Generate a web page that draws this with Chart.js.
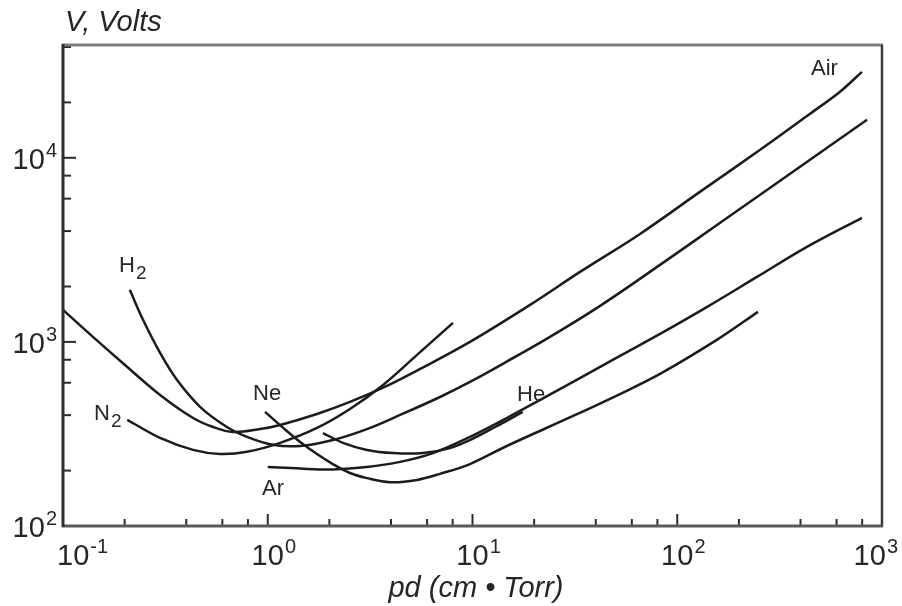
<!DOCTYPE html>
<html>
<head>
<meta charset="utf-8">
<script src="https://cdn.jsdelivr.net/npm/chart.js@4"></script>
<style>
  html, body { margin: 0; padding: 0; background: #fff; }
  canvas { display: block; }
</style>
</head>
<body>
<canvas id="paschen" width="902" height="606"></canvas>
<script>
// breakdown voltage (V) vs pd (cm Torr)
const airPd = [0.1, 0.14, 0.206, 0.298, 0.432, 0.541, 0.676, 0.916, 1.15, 1.74, 2.52, 3.82, 5.55, 9.72, 19.1, 33.5, 65.8, 129, 254, 445, 624, 798];
const airV  = [1493, 1065, 731, 515, 386, 345, 324, 336, 354, 406, 472, 577, 713, 1000, 1589, 2400, 3860, 6530, 11050, 17340, 22850, 29300];

const h2Pd = [0.212, 0.246, 0.298, 0.36, 0.467, 0.632, 0.792, 1.06, 1.44, 2.08, 3.05, 4.43, 6.94, 9.72, 15.2, 23.9, 42.0, 82.4, 162, 318, 557, 845];
const h2V  = [1918, 1318, 871, 622, 444, 345, 305, 276, 272, 293, 336, 401, 502, 606, 798, 1065, 1570, 2621, 4436, 7500, 11620, 16090];

const n2Pd = [0.206, 0.298, 0.432, 0.585, 0.792, 1.15, 1.74, 2.52, 3.66, 5.36, 8.03];
const n2V  = [377, 301, 259, 246, 253, 283, 341, 432, 584, 850, 1269];

const nePd = [0.97, 1.19, 1.44, 1.74, 2.08, 2.52, 3.05, 3.95, 5.36, 6.94, 9.72, 14.7, 31.0, 52.5, 82.4, 156, 248];
const neV  = [417, 341, 286, 246, 217, 194, 182, 173, 178, 192, 217, 272, 396, 521, 670, 1025, 1456];

const arPd = [1.0, 1.44, 2.08, 3.05, 4.43, 6.41, 9.72, 14.7, 31.0, 52.5, 82.4, 140, 245, 430, 798];
const arV  = [209, 205, 203, 209, 223, 249, 305, 386, 606, 839, 1105, 1550, 2254, 3281, 4720];

const hePd = [1.86, 2.33, 3.05, 4.09, 5.73, 7.76, 9.72, 12.9, 17.6];
const heV  = [320, 283, 259, 249, 249, 265, 293, 345, 417];

// axis ticks
const xDecades = [0.1, 1, 10, 100, 1000];
const xExponents = ['-1', '0', '1', '2', '3'];
const yDecades = [100, 1000, 10000];
const yExponents = ['2', '3', '4'];
const minorSteps = [2, 4, 6, 8];

const FONT = '"Liberation Sans", Arial, sans-serif';

function pts(xs, ys) {
  return xs.map((v, i) => ({ x: v, y: ys[i] }));
}

function curve(label, xs, ys) {
  return {
    label: label,
    data: pts(xs, ys),
    showLine: true,
    borderColor: '#1c1c1c',
    borderWidth: 2.5,
    pointRadius: 0,
    tension: 0.35,
    fill: false
  };
}

// frame, inward ticks, tick labels and curve names
const decorations = {
  id: 'decorations',
  afterDraw(chart) {
    const ctx = chart.ctx;
    const a = chart.chartArea;
    const xs = chart.scales.x, ys = chart.scales.y;

    function seg(x1, y1, x2, y2, color, w) {
      ctx.beginPath();
      ctx.strokeStyle = color;
      ctx.lineWidth = w;
      ctx.moveTo(x1, y1);
      ctx.lineTo(x2, y2);
      ctx.stroke();
    }

    ctx.save();

    // ticks on bottom axis
    xDecades.forEach((d, i) => {
      const px = xs.getPixelForValue(d);
      seg(px, a.bottom, px, a.bottom - 12, '#2a2a2a', 2);
      if (i < xDecades.length - 1) {
        minorSteps.forEach(m => {
          const p = xs.getPixelForValue(d * m);
          seg(p, a.bottom, p, a.bottom - 7, '#2a2a2a', 2);
        });
      }
    });
    // ticks on left axis
    yDecades.forEach(d => {
      const py = ys.getPixelForValue(d);
      seg(a.left, py, a.left + 13, py, '#2a2a2a', 2);
      minorSteps.forEach(m => {
        const v = d * m;
        if (v < ys.max) {
          const p = ys.getPixelForValue(v);
          seg(a.left, p, a.left + 8, p, '#2a2a2a', 2);
        }
      });
    });

    // frame
    seg(a.left - 1, a.top, a.right + 1, a.top, '#7c7c7c', 3);
    seg(a.right, a.top, a.right, a.bottom + 1, '#3a3a3a', 2.5);
    seg(a.left - 1, a.bottom, a.right + 1, a.bottom, '#5a5a5a', 3);
    seg(a.left, a.top - 1, a.left, a.bottom + 1, '#2e2e2e', 3);

    // tick labels: 10 with a raised exponent
    ctx.fillStyle = '#262626';
    ctx.textBaseline = 'alphabetic';
    const big = '29px ' + FONT, small = '20px ' + FONT;

    xDecades.forEach((d, i) => {
      const px = xs.getPixelForValue(d);
      ctx.font = big;
      const w10 = ctx.measureText('10').width;
      ctx.font = small;
      const wExp = ctx.measureText(xExponents[i]).width;
      let start = px - w10 / 2;
      start = Math.max(start, a.left - 6);
      start = Math.min(start, chart.width - 4 - (w10 + 1 + wExp));
      ctx.textAlign = 'left';
      ctx.font = big;
      ctx.fillText('10', start, 565);
      ctx.font = small;
      ctx.fillText(xExponents[i], start + w10 + 1, 553);
    });

    yDecades.forEach((d, i) => {
      const py = ys.getPixelForValue(d);
      const right = a.left - 6;
      ctx.textAlign = 'right';
      ctx.font = small;
      const wExp = ctx.measureText(yExponents[i]).width;
      ctx.fillText(yExponents[i], right, py - 1);
      ctx.font = big;
      ctx.fillText('10', right - wExp - 1, py + 11);
    });

    // axis titles
    ctx.font = 'italic 29px ' + FONT;
    ctx.textAlign = 'left';
    ctx.fillText('V, Volts', 65, 31);
    ctx.textAlign = 'center';
    ctx.fillText('pd (cm \u2022 Torr)', 476, 597);

    // curve names
    ctx.textAlign = 'left';
    ctx.font = '22px ' + FONT;
    ctx.fillText('Air', 811, 75);
    ctx.fillText('Ne', 253, 400);
    ctx.fillText('He', 517, 401);
    ctx.fillText('Ar', 262, 495);
    ctx.fillText('H', 119, 272);
    ctx.fillText('N', 94, 420);
    ctx.font = '19px ' + FONT;
    ctx.fillText('2', 136, 279);
    ctx.fillText('2', 111, 427);

    ctx.restore();
  }
};

const chart = new Chart(document.getElementById('paschen').getContext('2d'), {
  type: 'scatter',
  data: {
    datasets: [
      curve('Air', airPd, airV),
      curve('H2', h2Pd, h2V),
      curve('N2', n2Pd, n2V),
      curve('Ne', nePd, neV),
      curve('Ar', arPd, arV),
      curve('He', hePd, heV)
    ]
  },
  options: {
    responsive: false,
    animation: false,
    layout: { padding: { left: 63, right: 20, top: 45, bottom: 80 } },
    plugins: {
      legend: { display: false },
      tooltip: { enabled: false }
    },
    scales: {
      x: { type: 'logarithmic', min: 0.1, max: 1000, display: false },
      y: { type: 'logarithmic', min: 100, max: 41000, display: false }
    }
  },
  plugins: [decorations]
});
</script>
</body>
</html>
